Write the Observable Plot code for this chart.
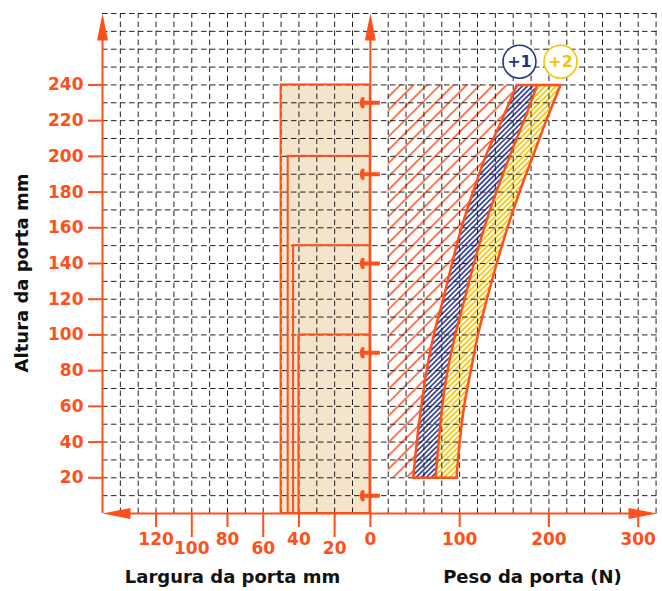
<!DOCTYPE html>
<html>
<head>
<meta charset="utf-8">
<script src="https://cdn.jsdelivr.net/npm/d3@7"></script>
<script src="https://cdn.jsdelivr.net/npm/@observablehq/plot@0.6"></script>
<style>
  html, body { margin: 0; padding: 0; background: #fff; }
</style>
</head>
<body>
<div id="chart"></div>
<script>
// ---------------- data ----------------
// Door height (left vertical axis), in the chart's own units
const heightTicks = [20, 40, 60, 80, 100, 120, 140, 160, 180, 200, 220, 240];
// Door width (mm), read leftwards from the central axis
const widthTicksHigh = [120, 80, 40, 0];
const widthTicksLow = [100, 60, 20];
// Door weight (N), read rightwards from the central axis
const weightTicks = [100, 200, 300];

// grid
const gridHeights = [10, 20, 30, 40, 50, 60, 70, 80, 90, 100, 110, 120, 130, 140, 150, 160, 170, 180, 190, 200, 210, 220, 230, 240, 250, 260, 270, 280];
const gridWidths = [10, 20, 30, 40, 50, 60, 70, 80, 90, 100, 110, 120, 130, 140];
const gridWeights = [20, 40, 60, 80, 100, 120, 140, 160, 180, 200, 220, 240, 260, 280, 300, 320];

// nested door-size rectangles (width mm, height)
const doorWidths = [50, 46, 43, 40];
const doorHeights = [240, 200, 150, 100];

// markers on the central axis
const markerHeights = [230, 190, 140, 90, 10];

// weight bands per height (N)
const bandHeights = [20, 40, 60, 80, 100, 120, 140, 160, 180, 200, 220, 240];
const band1Min = [48, 52, 57, 63, 71, 81.5, 91.5, 102, 115, 129, 147, 164];
const band1Max = [73, 76.5, 80.5, 86.5, 95, 105.5, 116, 127.5, 141, 156, 172, 187];
const band2Max = [96.5, 100, 105, 112.5, 120.5, 130.5, 141.5, 153.5, 167, 182, 197, 213];
const hatchStartWeight = 20;

// band labels
const bandLabels = ["+1", "+2"];
const bandLabelWeights = [167, 213];
const bandLabelColors = ["#27338a", "#f5c400"];

// ---------------- styles ----------------
const orange = "#ff4f1a";
const beige = "#f3e4cb";
const navy = "#27338a";
const gold = "#f5c400";
const font = "DejaVu Sans";

// width (mm) -> chart x units (leftwards), weight (N) -> chart x units (rightwards)
const wx = w => -w;
const nx = n => n / 2;

const doorRects = doorWidths.map((w, i) => ({w, h: doorHeights[i]}));
const bandRows = bandHeights.map((h, i) => ({h, a: band1Min[i], b: band1Max[i], c: band2Max[i]}));
const labels = bandLabels.map((t, i) => ({t, n: bandLabelWeights[i], color: bandLabelColors[i]}));
const gridX = [...gridWidths.map(wx), ...gridWeights.map(nx)];
const tickFmt = d => d <= 0 ? String(Math.abs(d)) : String(d * 2);
const curve = "monotone-y";

const arrowUp = {draw(c) { c.moveTo(0, 0); c.lineTo(5.5, 27); c.lineTo(-5.5, 27); c.closePath(); }};
const arrowLeft = {draw(c) { c.moveTo(0, 0); c.lineTo(28, -5.5); c.lineTo(28, 5.5); c.closePath(); }};
const arrowRight = {draw(c) { c.moveTo(0, 0); c.lineTo(-29, -5.5); c.lineTo(-29, 5.5); c.closePath(); }};
const flag = {draw(c) {
  c.moveTo(-6, -5.5); c.lineTo(-6, -2); c.lineTo(9.5, -2); c.lineTo(9.5, 2);
  c.lineTo(-6, 2); c.lineTo(-6, 5.5); c.lineTo(-9, 5.5);
  c.quadraticCurveTo(-12, 0, -9, -5.5); c.closePath();
}};

const xMin = wx(150), xMax = 160.8, yMax = 280;
const titleStyle = {fontSize: 18, fontWeight: "bold", fill: "#111", textAnchor: "middle"};

const chart = Plot.plot({
  width: 662,
  height: 591,
  marginLeft: 102,
  marginRight: 5,
  marginTop: 13,
  marginBottom: 78,
  x: {domain: [xMin, xMax]},
  y: {domain: [0, yMax]},
  color: {type: "identity"},
  style: {fontFamily: font, background: "white", overflow: "visible"},
  marks: [
    // beige door area
    Plot.rect([doorRects[0]], {x1: d => wx(d.w), x2: 0, y1: 0, y2: d => d.h, fill: beige}),
    // hatched areas
    Plot.areaX(bandRows, {y: "h", x1: () => nx(hatchStartWeight), x2: d => nx(d.a), fill: "url(#hatchO)", curve}),
    Plot.areaX(bandRows, {y: "h", x1: d => nx(d.a), x2: d => nx(d.b), fill: "url(#hatchB)", curve}),
    Plot.areaX(bandRows, {y: "h", x1: d => nx(d.b), x2: d => nx(d.c), fill: "url(#hatchY)", curve}),
    // dashed grid
    Plot.ruleY(gridHeights, {stroke: "#222", strokeWidth: 1, strokeDasharray: "5.5,3.5"}),
    Plot.ruleX(gridX, {y1: 0, y2: yMax, stroke: "#222", strokeWidth: 1, strokeDasharray: "5.5,3.5"}),
    // door rectangles outlines
    Plot.rect(doorRects, {x1: d => wx(d.w), x2: 0, y1: 0, y2: d => d.h, fill: "none", stroke: orange, strokeWidth: 2}),
    // band outlines
    Plot.line(bandRows, {x: d => nx(d.a), y: "h", stroke: orange, strokeWidth: 2.5, curve}),
    Plot.line(bandRows, {x: d => nx(d.b), y: "h", stroke: orange, strokeWidth: 2.5, curve}),
    Plot.line(bandRows, {x: d => nx(d.c), y: "h", stroke: orange, strokeWidth: 2.5, curve}),
    Plot.ruleY([bandRows[0], bandRows[bandRows.length - 1]], {y: "h", x1: d => nx(d.a), x2: d => nx(d.c), stroke: orange, strokeWidth: 2.5}),
    // axis lines
    Plot.ruleX([xMin, 0], {y1: 0, y2: yMax - 8, stroke: orange, strokeWidth: 2}),
    Plot.ruleY([0], {x1: xMin + 8, x2: xMax - 8, stroke: orange, strokeWidth: 2}),
    // arrow heads
    Plot.dot([xMin, 0], {x: d => d, y: () => yMax, symbol: arrowUp, fill: orange, stroke: "none"}),
    Plot.dot([xMin], {x: d => d, y: () => 0, symbol: arrowLeft, fill: orange, stroke: "none"}),
    Plot.dot([xMax], {x: d => d, y: () => 0, symbol: arrowRight, fill: orange, stroke: "none"}),
    // markers on the central axis
    Plot.dot(markerHeights, {x: () => 0, y: d => d, symbol: flag, fill: orange, stroke: "none"}),
    // band labels
    Plot.dot(labels, {x: d => nx(d.n), y: () => 253, r: 16.5, fill: "white", stroke: "color", strokeWidth: 1.6}),
    Plot.text(labels, {x: d => nx(d.n), y: () => 253, text: "t", fill: "color", fontSize: 16, fontWeight: "bold"}),
    // axes
    Plot.axisY(heightTicks, {anchor: "left", tickSize: 14, tickPadding: 5, color: orange, strokeWidth: 2, fontSize: 17, fontWeight: "bold", label: null}),
    Plot.axisX([...widthTicksHigh.map(wx), ...weightTicks.map(nx)], {anchor: "bottom", tickSize: 14, tickPadding: 5, tickFormat: tickFmt, color: orange, strokeWidth: 2, fontSize: 17, fontWeight: "bold", label: null}),
    Plot.axisX(widthTicksLow.map(wx), {anchor: "bottom", tickSize: 24, tickPadding: 4, tickFormat: tickFmt, color: orange, strokeWidth: 2, fontSize: 17, fontWeight: "bold", label: null}),
    // axis titles
    Plot.text(["Altura da porta mm"], {frameAnchor: "left", dx: -80, dy: 9.5, rotate: -90, ...titleStyle}),
    Plot.text(["Largura da porta mm"], {frameAnchor: "bottom-left", dx: 130, dy: 69, ...titleStyle}),
    Plot.text(["Peso da porta (N)"], {frameAnchor: "bottom-right", dx: -125, dy: 69, ...titleStyle})
  ]
});

// hatch patterns used by the area fills
d3.select(chart).insert("defs", ":first-child").html(`
  <pattern id="hatchO" patternUnits="userSpaceOnUse" width="9.4" height="9.4" patternTransform="rotate(45)">
    <line x1="4.7" y1="0" x2="4.7" y2="9.4" stroke="${orange}" stroke-width="1.5"/>
  </pattern>
  <pattern id="hatchB" patternUnits="userSpaceOnUse" width="3.6" height="3.6" patternTransform="rotate(45)">
    <rect width="3.6" height="3.6" fill="white"/>
    <line x1="1.8" y1="0" x2="1.8" y2="3.6" stroke="${navy}" stroke-width="1.6"/>
  </pattern>
  <pattern id="hatchY" patternUnits="userSpaceOnUse" width="3.8" height="3.8" patternTransform="rotate(45)">
    <rect width="3.8" height="3.8" fill="white"/>
    <line x1="1.9" y1="0" x2="1.9" y2="3.8" stroke="${gold}" stroke-width="1.7"/>
  </pattern>
`);

document.getElementById("chart").appendChild(chart);
</script>
</body>
</html>
